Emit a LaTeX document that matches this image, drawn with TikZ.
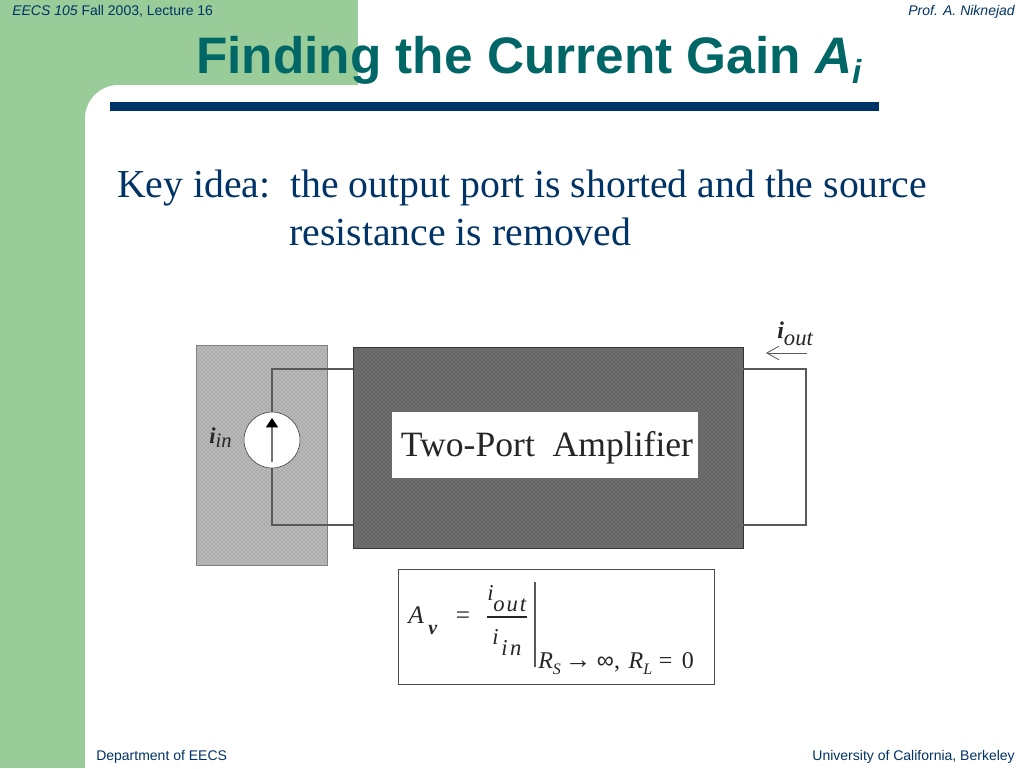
\documentclass[tikz,border=0pt]{standalone}
\usepackage{fontspec}
\setmainfont{Liberation Serif}
\newfontfamily\headfont{Liberation Sans}
\usetikzlibrary{patterns,arrows.meta}
\definecolor{slidegreen}{HTML}{99CC99}
\definecolor{slidenavy}{HTML}{003366}
\definecolor{slideteal}{HTML}{006666}
\tikzset{
	smalltext/.style={font=\headfont\fontsize{10.5}{12}\selectfont, text=slidenavy, inner sep=0pt},
	wire/.style={draw=black!65, line width=0.8pt},
	boxlabel/.style={inner sep=0pt, text=black!85},
}
\begin{document}
\begin{tikzpicture}[x=0.75pt,y=-0.75pt]
	%%%%% BACKGROUND %%%%%
	\useasboundingbox (0,0) rectangle (1024,768);
	\fill[white] (0,0) rectangle (1024,768);
	\fill[slidegreen] (0,0) rectangle (358,85);
	\fill[slidegreen] (0,0) rectangle (85,768);
	\fill[slidegreen] (85,85) -- (118,85) .. controls (100,85) and (85,100) .. (85,118) -- cycle;
	\fill[slidenavy] (110,102) rectangle (879,111);

	\node[smalltext, anchor=base west] (course) at (12,15) {\itshape EECS 105 \upshape Fall 2003, Lecture 16};
	\node[smalltext, anchor=base east] (prof) at (1015,15) {\itshape Prof. A. Niknejad};
	\node[smalltext, anchor=base west] (dept) at (96,760) {Department of EECS};
	\node[smalltext, anchor=base east] (univ) at (1015,760) {University of California, Berkeley};

	\node[anchor=base west, inner sep=0pt, text=slideteal, font=\headfont\bfseries\fontsize{38.5}{40}\selectfont] (title) at (196,73)
		{Finding the Current Gain \textit{A}\raisebox{-0.2em}{\fontsize{25}{25}\selectfont\textit{i}}};

	\node[anchor=base west, inner sep=0pt, text=slidenavy, font=\fontsize{29.8}{32}\selectfont] (idea) at (117,197)
		{Key idea:\ \ the output port is shorted and the source};
	\node[anchor=base west, inner sep=0pt, text=slidenavy, font=\fontsize{29.8}{32}\selectfont] (idea2) at (289,245)
		{resistance is removed};

	%%%%% CIRCUIT %%%%%
	\draw[draw=black!50, fill=black!28, postaction={pattern=crosshatch dots, pattern color=black!45}] (196,345) rectangle (327,565);
	\node[draw=black!80, fill=black!57, postaction={pattern=crosshatch dots, pattern color=black!70}, minimum width=390*0.75pt, minimum height=201*0.75pt, inner sep=0pt, anchor=north west] (amp) at (353,347) {};
	\node[fill=white, minimum width=306*0.75pt, minimum height=66*0.75pt, inner sep=0pt, anchor=north west] (name) at (392,412) {};
	\node[boxlabel, anchor=base, font=\fontsize{26.7}{28}\selectfont] (namelabel) at (547,456) {Two-Port\ \ Amplifier};

	\node[draw=black!80, fill=white, circle, minimum size=56*0.75pt, inner sep=0pt] (src) at (272,440) {};
	\coordinate (srctop) at (272,369);
	\coordinate (srcbot) at (272,525);
	\coordinate (ampinT) at (353,369);
	\coordinate (ampinB) at (353,525);
	\coordinate (ampoutT) at (743,369);
	\coordinate (ampoutB) at (743,525);
	\coordinate (shortT) at (806,369);
	\coordinate (shortB) at (806,525);
	\draw[wire] (src.north) -- (srctop) -- (ampinT);
	\draw[wire] (src.south) -- (srcbot) -- (ampinB);
	\draw[wire] (ampoutT) -- (shortT) -- (shortB) -- (ampoutB);

	\coordinate (srctail) at (272,462);
	\coordinate (srchead) at (272,418);
	\draw[draw=black!55, line width=1pt, -{Triangle[length=7pt,width=9pt,color=black]}] (srctail) -- (srchead);

	\coordinate (outtail) at (807,353);
	\coordinate (outhead) at (766,353);
	\draw[draw=black!65, line width=0.6pt, -{Straight Barb[length=9pt,width=10pt]}] (outtail) -- (outhead);

	\node[boxlabel, anchor=base west, font=\fontsize{17}{18}\selectfont] (iin) at (209,443) {\textbf{\textit{i}}\textit{\raisebox{-0.2em}{\fontsize{15.5}{16}\selectfont in}}};
	\node[boxlabel, anchor=base west, font=\fontsize{18}{18}\selectfont] (iout) at (777,338) {\textbf{\textit{i}}\textit{\raisebox{-0.3em}{\fontsize{17}{17}\selectfont out}}};

	%%%%% FORMULA %%%%%
	\node[draw=black!70, line width=0.8pt, minimum width=316*0.75pt, minimum height=115*0.75pt, inner sep=0pt, anchor=north west] (formula) at (398,569) {};
	\node[boxlabel, anchor=base west, font=\fontsize{19}{20}\selectfont\itshape] (av) at (408,623) {A};
	\node[boxlabel, anchor=base west, font=\fontsize{15}{16}\selectfont\bfseries\itshape] (avsub) at (428,634) {v};
	\node[boxlabel, anchor=base, font=\fontsize{19}{20}\selectfont] (eq) at (463,623) {=};
	\node[boxlabel, anchor=base west, font=\fontsize{17}{18}\selectfont\itshape] (num) at (487,600) {i};
	\node[boxlabel, anchor=base west, font=\fontsize{17}{18}\selectfont\itshape] (numsub) at (493,611) {o\kern1.5pt u\kern1.5pt t};
	\coordinate (barL) at (487,617);
	\coordinate (barR) at (527,617);
	\draw[draw=black!85, line width=1pt] (barL) -- (barR);
	\node[boxlabel, anchor=base west, font=\fontsize{17}{18}\selectfont\itshape] (den) at (492,644) {i};
	\node[boxlabel, anchor=base west, font=\fontsize{17}{18}\selectfont\itshape] (densub) at (501,655) {i\kern2pt n};
	\coordinate (evalT) at (535,582);
	\coordinate (evalB) at (535,667);
	\draw[draw=black!65, line width=0.8pt] (evalT) -- (evalB);
	\node[boxlabel, anchor=base west, font=\fontsize{18}{18}\selectfont] (cond) at (538,668)
		{\textit{R}\raisebox{-0.25em}{\fontsize{12}{12}\selectfont\textit{S}}\kern3pt{\headfont\fontsize{20}{20}\selectfont\symbol{"2192}}\kern4pt{\headfont\symbol{"221E}}, \kern2pt\textit{R}\raisebox{-0.25em}{\fontsize{12}{12}\selectfont\textit{L}}\kern5pt=\kern7pt 0};
\end{tikzpicture}
\end{document}
